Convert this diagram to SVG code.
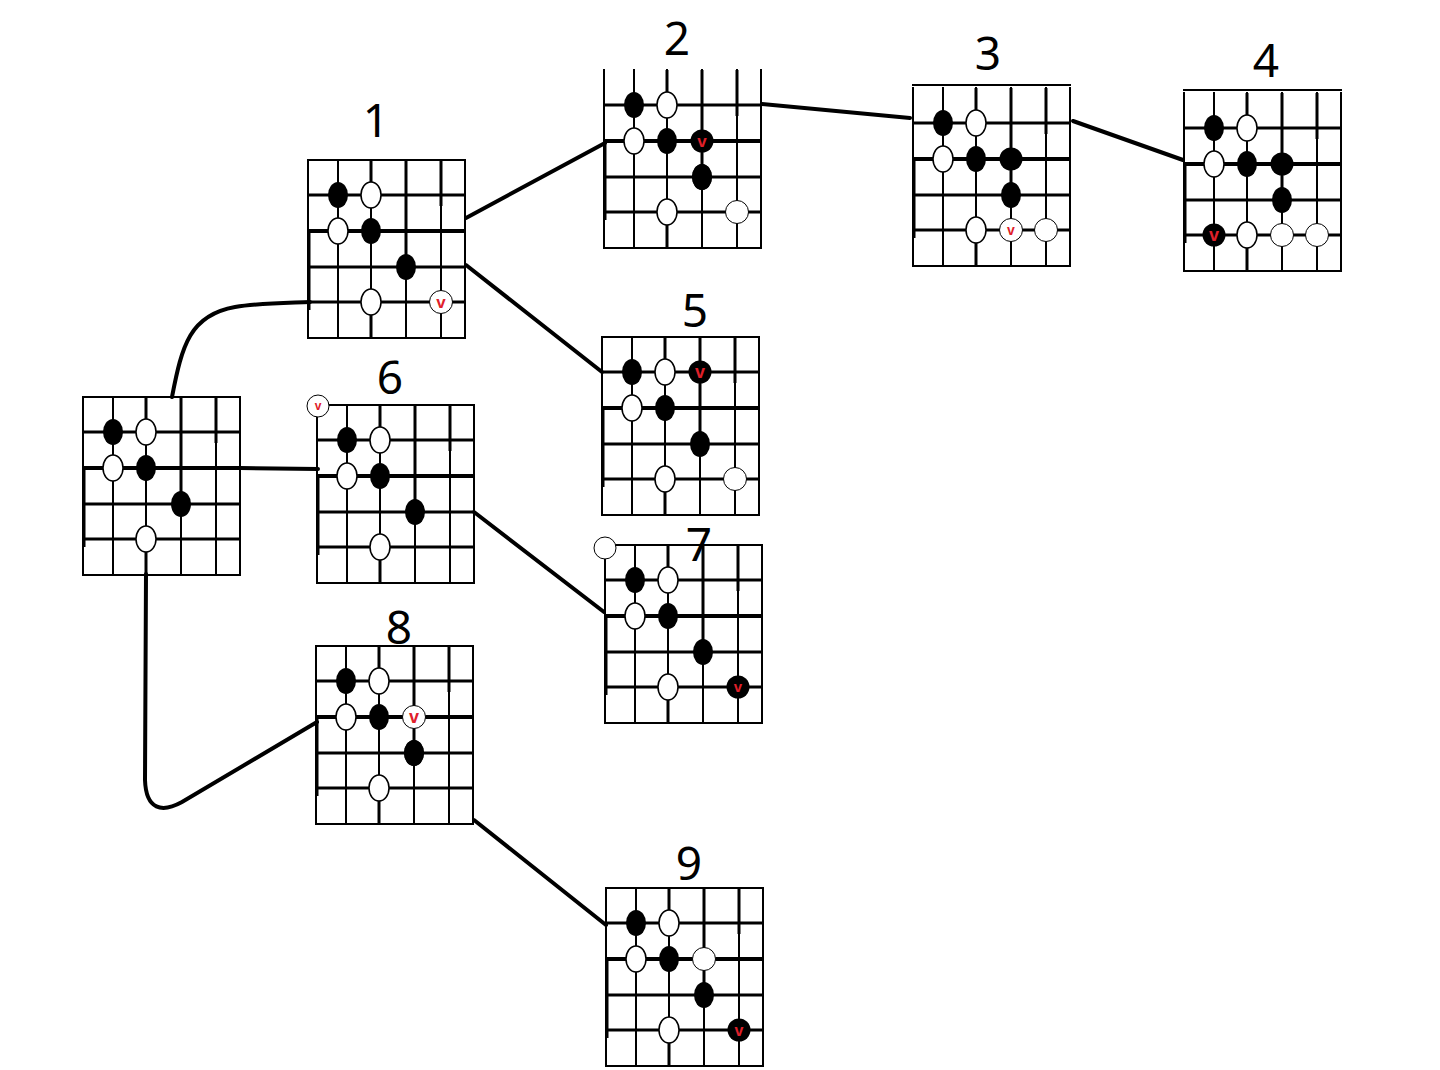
<svg xmlns="http://www.w3.org/2000/svg" xmlns:xlink="http://www.w3.org/1999/xlink" width="1440" height="1070" viewBox="0 0 1440 1070">
<style>
.g{stroke:#000;stroke-width:2;fill:none;stroke-linecap:square}
.g3{stroke:#000;stroke-width:3;fill:none}
.g4{stroke:#000;stroke-width:4;fill:none}
.conn{stroke:#000;stroke-width:4;fill:none;stroke-linecap:round}
.lbl{font-family:"Noto Sans","DejaVu Sans",sans-serif;font-size:46px;fill:#000;text-anchor:middle}
.mk{font-family:"Liberation Sans",Arial,sans-serif;font-weight:bold;fill:#e0202a;text-anchor:middle}
</style>
<defs>
<g id="top"><line class="g" x1="0" y1="0" x2="157" y2="0"/></g>
<g id="grid">
<line class="g" x1="157" y1="0" x2="157" y2="178"/>
<line class="g" x1="0" y1="178" x2="157" y2="178"/>
<line class="g" x1="0" y1="0" x2="0" y2="178"/>
<line class="g3" x1="1" y1="71" x2="1" y2="150"/>
<line class="g3" x1="0" y1="35" x2="157" y2="35"/>
<line class="g4" x1="0" y1="71" x2="157" y2="71"/>
<line class="g3" x1="0" y1="107" x2="157" y2="107"/>
<line class="g3" x1="0" y1="142" x2="157" y2="142"/>
<line class="g" x1="30" y1="0" x2="30" y2="178"/>
<line class="g" x1="63" y1="0" x2="63" y2="178"/>
<line class="g3" x1="63" y1="0" x2="63" y2="35"/>
<line class="g3" x1="63" y1="142" x2="63" y2="178"/>
<line class="g" x1="98" y1="0" x2="98" y2="178"/>
<line class="g3" x1="98" y1="0" x2="98" y2="107"/>
<line class="g" x1="133" y1="0" x2="133" y2="178"/>
<line class="g3" x1="133" y1="0" x2="133" y2="46"/>
</g>
<ellipse id="eb" cx="0" cy="0" rx="10" ry="13" fill="#000"/>
<ellipse id="ew" cx="0" cy="0" rx="10" ry="13" fill="#fff" stroke="#000" stroke-width="1.5"/>
<circle id="cb" cx="0" cy="0" r="11.5" fill="#000"/>
<circle id="cw" cx="0" cy="0" r="11.5" fill="#fff" stroke="#000" stroke-width="1"/>
<g id="base">
<use href="#eb" x="30" y="35"/>
<use href="#ew" x="63" y="35"/>
<use href="#ew" x="30" y="71"/>
<use href="#eb" x="63" y="71"/>
<use href="#eb" x="98" y="107"/>
<use href="#ew" x="63" y="142"/>
</g>
</defs>
<rect width="1440" height="1070" fill="#fff"/>

<g id="connectors">
<path class="conn" d="M172,397 C182,345 190,315 235,307 C260,303 285,303 310,302"/>
<path class="conn" d="M240,468 L318,469"/>
<path class="conn" d="M146,574 L145,780 C146,810 162,813 182,802 L317,722"/>
<path class="conn" d="M466,218 L605,143"/>
<path class="conn" d="M466,265 L602,372"/>
<path class="conn" d="M762,104 L910,118"/>
<path class="conn" d="M1073,121 L1183,160"/>
<path class="conn" d="M474,512 L604,612"/>
<path class="conn" d="M474,820 L606,925"/>
</g>

<g id="board-0" transform="translate(83,397)">
<use href="#top"/><use href="#grid"/><use href="#base"/>
</g>

<g id="board-1" transform="translate(308,160)">
<use href="#top"/><use href="#grid"/><use href="#base"/>
<use href="#cw" x="133" y="142"/>
<text class="mk" x="133" y="148" font-size="17">v</text>
</g>
<text class="lbl" x="376" y="137">1</text>

<g id="board-2" transform="translate(604,70)">
<use href="#grid"/><use href="#base"/>
<use href="#cb" x="98" y="71"/>
<text class="mk" x="98" y="77" font-size="17">v</text>
<use href="#eb" x="98" y="107"/>
<use href="#cw" x="133" y="142"/>
</g>
<text class="lbl" x="677" y="55">2</text>

<g id="board-3" transform="translate(913,88)">
<line class="g" x1="0" y1="-3" x2="157" y2="-3"/>
<use href="#grid"/><use href="#base"/>
<use href="#cb" x="98" y="71"/>
<use href="#cw" x="98" y="142"/>
<text class="mk" x="98" y="147" font-size="14">v</text>
<use href="#cw" x="133" y="142"/>
</g>
<text class="lbl" x="988" y="70">3</text>

<g id="board-4" transform="translate(1184,93)">
<line class="g" x1="0" y1="-3" x2="157" y2="-3"/>
<use href="#grid"/><use href="#base"/>
<use href="#cb" x="98" y="71"/>
<use href="#cb" x="30" y="142"/>
<text class="mk" x="30" y="148" font-size="18">v</text>
<use href="#cw" x="98" y="142"/>
<use href="#cw" x="133" y="142"/>
</g>
<text class="lbl" x="1266" y="77">4</text>

<g id="board-5" transform="translate(602,337)">
<use href="#top"/><use href="#grid"/><use href="#base"/>
<use href="#cb" x="98" y="35"/>
<text class="mk" x="98" y="41" font-size="18">v</text>
<use href="#cw" x="133" y="142"/>
</g>
<text class="lbl" x="695" y="327">5</text>

<g id="board-6" transform="translate(317,405)">
<use href="#top"/><use href="#grid"/><use href="#base"/>
<circle cx="1" cy="1" r="11" fill="#fff" stroke="#000" stroke-width="1"/>
<text class="mk" x="1" y="5" font-size="12">v</text>
</g>
<text class="lbl" x="390" y="394">6</text>

<g id="board-7" transform="translate(605,545)">
<use href="#top"/><use href="#grid"/><use href="#base"/>
<circle cx="0" cy="3" r="11" fill="#fff" stroke="#000" stroke-width="1"/>
<use href="#cb" x="133" y="142"/>
<text class="mk" x="133" y="147" font-size="15">v</text>
</g>
<text class="lbl" x="699" y="561">7</text>

<g id="board-8" transform="translate(316,646)">
<use href="#top"/><use href="#grid"/><use href="#base"/>
<use href="#cw" x="98" y="71"/>
<text class="mk" x="98" y="77" font-size="18">v</text>
<use href="#eb" x="98" y="107"/>
</g>
<text class="lbl" x="399" y="644">8</text>

<g id="board-9" transform="translate(606,888)">
<use href="#top"/><use href="#grid"/><use href="#base"/>
<use href="#cw" x="98" y="71"/>
<use href="#cb" x="133" y="142"/>
<text class="mk" x="133" y="148" font-size="16">v</text>
</g>
<text class="lbl" x="689" y="880">9</text>
</svg>
